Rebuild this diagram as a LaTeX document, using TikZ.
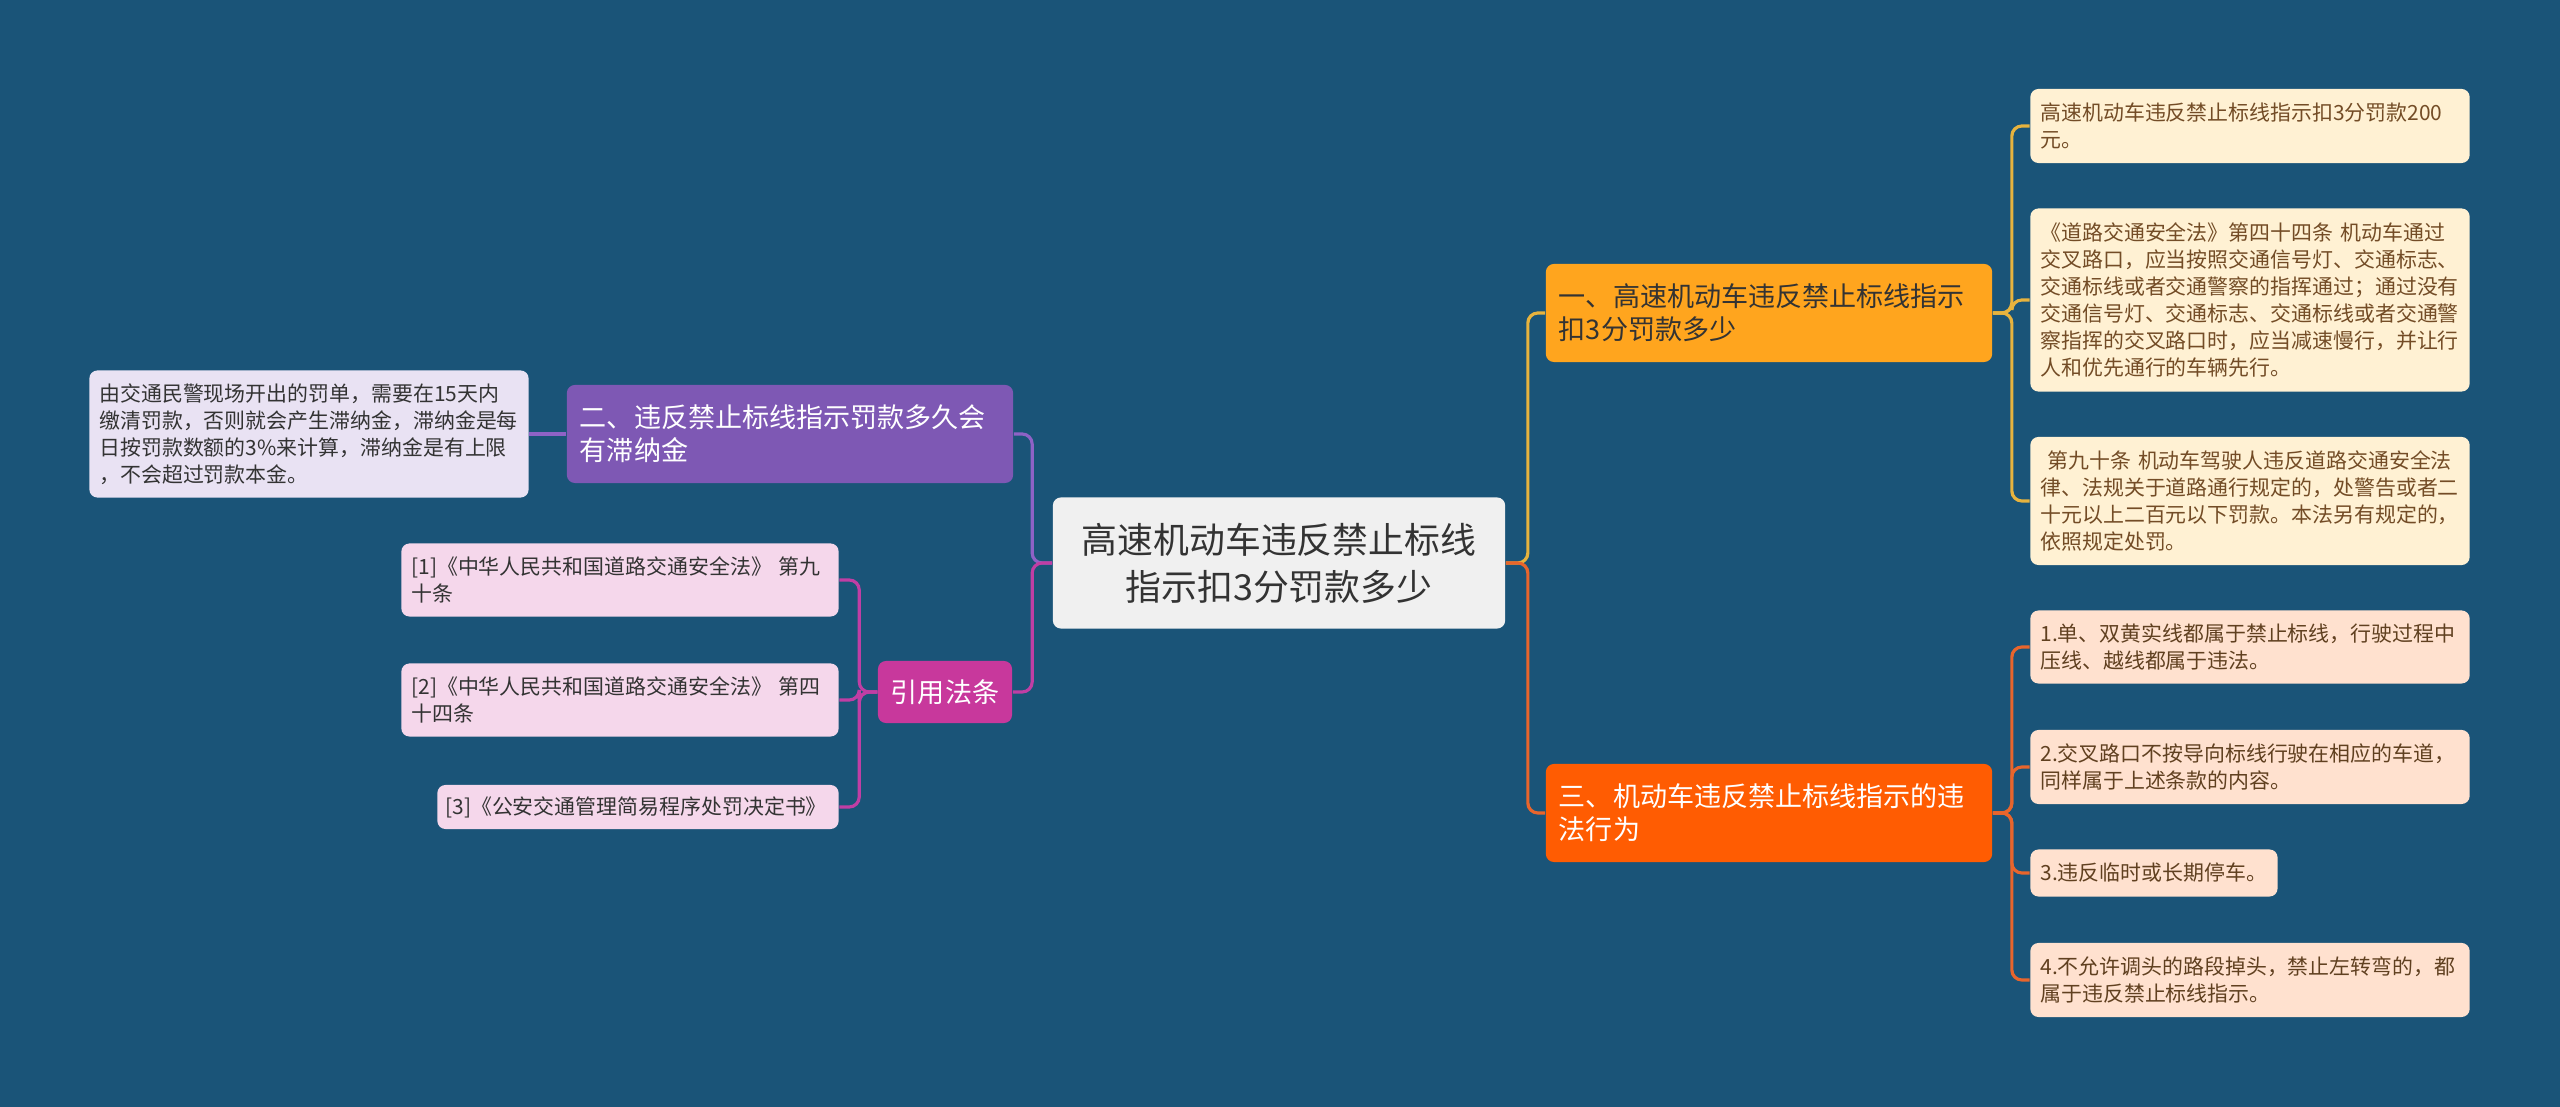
\documentclass[tikz,border=0pt]{standalone}
\usepackage{fontspec}
\setmainfont{Noto Sans CJK SC}
\usepackage{xcolor}
\usetikzlibrary{positioning}
\definecolor{bgBlue}{HTML}{1A5478}
\definecolor{rootGray}{HTML}{F0F0F0}
\definecolor{inkDark}{HTML}{333333}
\definecolor{topicGold}{HTML}{FFA51E}
\definecolor{topicRed}{HTML}{FF5C02}
\definecolor{topicPurple}{HTML}{7E58B4}
\definecolor{topicPink}{HTML}{C8389C}
\definecolor{leafCream}{HTML}{FFF1D3}
\definecolor{leafPeach}{HTML}{FFE1CF}
\definecolor{leafLav}{HTML}{E9E2F3}
\definecolor{leafRose}{HTML}{F5D7EB}
\definecolor{lineGold}{HTML}{E7B33E}
\definecolor{lineRed}{HTML}{E8652C}
\definecolor{linePurple}{HTML}{8E62C6}
\definecolor{linePink}{HTML}{C03EA4}

\begin{document}
\begin{tikzpicture}[
    x=0.01cm, y=-0.01cm,
    rootbox/.style={rectangle, rounded corners=0.08cm, fill=rootGray,
                    text=inkDark, align=center, inner sep=0pt,
                    font=\fontsize{10.2pt}{13.4pt}\selectfont},
    topic/.style={rectangle, rounded corners=0.08cm, inner xsep=0.13cm,
                  inner ysep=0pt, text width=4.2cm, align=left,
                  minimum height=0.98cm,
                  font=\fontsize{7.7pt}{9.4pt}\selectfont},
    leaf/.style={rectangle, rounded corners=0.08cm, inner xsep=0.1cm,
                 inner ysep=0pt, text width=4.19cm, align=left,
                 font=\fontsize{5.95pt}{7.7pt}\selectfont},
    link/.style={line width=0.9pt, rounded corners=0.1cm}
  ]
    \fill[bgBlue] (0,0) rectangle (2560,1107);

    % centre
    \node[rootbox, minimum width=4.52cm, minimum height=1.31cm] (root) at (1279,563)
      {高速机动车违反禁止标线\\指示扣3分罚款多少};

    % right side
    \node[topic, fill=topicGold, text=inkDark] (fine) at (1769,313)
      {一、高速机动车违反禁止标线指示\\扣3分罚款多少};
    \node[topic, fill=topicRed, text=white] (acts) at (1769,813)
      {三、机动车违反禁止标线指示的违\\法行为};

    \node[leaf, fill=leafCream, text=brown!60!black, minimum height=0.74cm] (fineA) at (2250,126)
      {高速机动车违反禁止标线指示扣3分罚款200\\元。};
    \node[leaf, fill=leafCream, text=brown!60!black, minimum height=1.83cm] (fineB) at (2250,300)
      {《道路交通安全法》第四十四条 机动车通过\\交叉路口，应当按照交通信号灯、交通标志、\\交通标线或者交通警察的指挥通过；通过没有\\交通信号灯、交通标志、交通标线或者交通警\\察指挥的交叉路口时，应当减速慢行，并让行\\人和优先通行的车辆先行。};
    \node[leaf, fill=leafCream, text=brown!60!black, minimum height=1.28cm] (fineC) at (2250,501)
      {~第九十条 机动车驾驶人违反道路交通安全法\\律、法规关于道路通行规定的，处警告或者二\\十元以上二百元以下罚款。本法另有规定的，\\依照规定处罚。};

    \node[leaf, fill=leafPeach, text=brown!50!black, minimum height=0.73cm] (actA) at (2250,647)
      {1.单、双黄实线都属于禁止标线，行驶过程中\\压线、越线都属于违法。};
    \node[leaf, fill=leafPeach, text=brown!50!black, minimum height=0.74cm] (actB) at (2250,767)
      {2.交叉路口不按导向标线行驶在相应的车道，\\同样属于上述条款的内容。};
    \node[leaf, fill=leafPeach, text=brown!50!black, text width=2.27cm, minimum height=0.47cm] (actC) at (2154,873)
      {3.违反临时或长期停车。};
    \node[leaf, fill=leafPeach, text=brown!50!black, minimum height=0.74cm] (actD) at (2250,980)
      {4.不允许调头的路段掉头，禁止左转弯的，都\\属于违反禁止标线指示。};

    % left side
    \node[topic, fill=topicPurple, text=white] (late) at (790,434)
      {二、违反禁止标线指示罚款多久会\\有滞纳金};
    \node[leaf, fill=leafLav, text=inkDark, minimum height=1.27cm] (lateA) at (309,434)
      {由交通民警现场开出的罚单，需要在15天内\\缴清罚款，否则就会产生滞纳金，滞纳金是每\\日按罚款数额的3\%来计算，滞纳金是有上限\\，不会超过罚款本金。};

    \node[rectangle, rounded corners=0.08cm, fill=topicPink, text=white,
          minimum width=1.34cm, minimum height=0.62cm, inner sep=0pt,
          font=\fontsize{7.7pt}{9.4pt}\selectfont] (laws) at (945,692) {引用法条};
    \node[leaf, fill=leafRose, text=inkDark, text width=4.17cm, minimum height=0.73cm] (lawA) at (620,580)
      {[1]《中华人民共和国道路交通安全法》 第九\\十条};
    \node[leaf, fill=leafRose, text=inkDark, text width=4.17cm, minimum height=0.73cm] (lawB) at (620,700)
      {[2]《中华人民共和国道路交通安全法》 第四\\十四条};
    \node[leaf, fill=leafRose, text=inkDark, inner xsep=0.08cm, text width=3.85cm, minimum height=0.44cm] (lawC) at (638,807)
      {[3]《公安交通管理简易程序处罚决定书》};

    % connectors
    \draw[link, lineGold] (root.east) -- ++(22,0) |- (fine.west);
    \draw[link, lineRed]  (root.east) -- ++(22,0) |- (acts.west);
    \draw[link, linePurple] (root.west) -- ++(-20,0) |- (late.east);
    \draw[link, linePink]   (root.west) -- ++(-20,0) |- (laws.east);
    \foreach \n in {fineA,fineB,fineC}
      \draw[link, lineGold] (fine.east) -- ++(19,0) |- (\n.west);
    \foreach \n in {actA,actB,actC,actD}
      \draw[link, lineRed] (acts.east) -- ++(19,0) |- (\n.west);
    \draw[link, linePurple] (late.west) -- (lateA.east);
    \foreach \n in {lawA,lawB,lawC}
      \draw[link, linePink] (laws.west) -- ++(-18,0) |- (\n.east);
  \end{tikzpicture}
\end{document}
